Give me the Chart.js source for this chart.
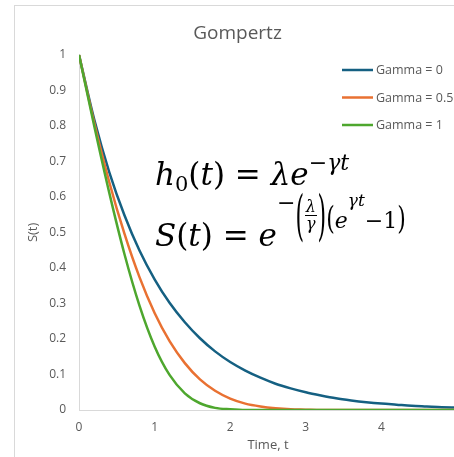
<!DOCTYPE html>
<html>
<head>
<meta charset="utf-8">
<script src="https://cdn.jsdelivr.net/npm/chart.js@4/dist/chart.umd.min.js"></script>
<style>
  html, body { margin:0; padding:0; background:#fff; overflow:hidden; width:454px; height:457px; }
  #frame { position:absolute; left:14px; top:5px; width:490px; height:490px; border:1px solid #d9d9d9; box-sizing:border-box; }
  #c { position:absolute; left:0; top:0; }
  .eq { position:absolute; left:155px; font-family:"DejaVu Serif", serif; font-size:31px; line-height:1; color:#000; white-space:nowrap; }
  .eq i { font-style:italic; }
  .eq .sub { font-size:21px; position:relative; top:6px; line-height:0; }
  .eq .sup1 { font-size:22px; position:relative; top:-15px; line-height:0; }
  .eq .ex { font-size:22px; position:relative; top:-18px; line-height:0; }
  .eq .lm { position:relative; top:-18px; }
  .eq .bp { display:inline-block; line-height:1; transform:translateY(-5px) scaleY(2.5); }
  .eq .sp { display:inline-block; line-height:1; transform:translateY(-2px) scaleY(1.4); }
  .eq .frac { display:inline-flex; flex-direction:column; align-items:center; font-size:16px; line-height:1; position:relative; top:-16px; margin:0 1px; }
  .eq .frac .den { border-top:1.5px solid #000; padding:0 1px; }
  .eq .sup2 { font-size:17px; position:relative; top:-22px; line-height:0; }
</style>
</head>
<body>
<div id="frame"></div>
<canvas id="c" width="490" height="470"></canvas>
<div class="eq" id="eq1" style="top:159px;"><i>h</i><span class="sub">0</span>(<i>t</i>) = <i>λe</i><span class="sup1">−<i>γt</i></span></div>
<div class="eq" id="eq2" style="top:220px;"><i>S</i>(<i>t</i>) = <i>e</i><span class="ex"><span class="lm">−</span><span class="bp">(</span><span class="frac"><i>λ</i><i class="den">γ</i></span><span class="bp">)</span><span class="sp">(</span><i>e</i><span class="sup2"><i>γt</i></span>−1<span class="sp">)</span></span></div>
<script>
const tValues = [0,0.2,0.4,0.6,0.8,1,1.2,1.4,1.6,1.8,2,2.2,2.4,2.6,2.8,3,3.2,3.4,3.6,3.8,4,4.2,4.4,4.6,4.8,5];
const gamma0  = [1,0.819,0.670,0.549,0.449,0.368,0.301,0.247,0.202,0.165,0.135,0.111,0.091,0.074,0.061,0.050,0.041,0.033,0.027,0.022,0.018,0.015,0.012,0.010,0.008,0.007];
const gamma05 = [1,0.810,0.642,0.497,0.374,0.273,0.193,0.132,0.086,0.054,0.032,0.018,0.010,0.005,0.002,0.001,0,0,0,0,0,0,0,0,0,0];
const gamma1  = [1,0.801,0.612,0.440,0.294,0.179,0.098,0.047,0.019,0.006,0.002,0,0,0,0,0,0,0,0,0,0,0,0,0,0,0];
const seriesLabels = ['Gamma = 0','Gamma = 0.5','Gamma = 1'];
const seriesColors = ['#156082','#E97132','#4EA72E'];
const chartTitle = 'Gompertz';
const xTitle = 'Time, t';
const yTitle = 'S(t)';

const FONT = '"Open Sans", "Liberation Sans", sans-serif';
const TXT = '#595959';

function pts(arr){ return tValues.map((t,i)=>({x:t,y:arr[i]})); }
const allSeries = [gamma0, gamma05, gamma1];

const legendPlugin = {
  id:'manualLegend',
  afterDraw(chart){
    const ctx = chart.ctx;
    ctx.save();
    chart.data.datasets.forEach((ds,i)=>{
      const y = 70 + i*27.5;
      ctx.strokeStyle = ds.borderColor;
      ctx.lineWidth = 2.5;
      ctx.beginPath(); ctx.moveTo(342,y); ctx.lineTo(373,y); ctx.stroke();
      ctx.fillStyle = TXT;
      ctx.font = '12.5px ' + FONT;
      ctx.textBaseline = 'middle';
      ctx.textAlign = 'left';
      ctx.fillText(ds.label, 376, y+0.5);
    });
    ctx.restore();
  }
};

new Chart(document.getElementById('c'), {
  type:'line',
  data:{
    datasets: allSeries.map((arr,i)=>({
      label: seriesLabels[i],
      data: pts(arr),
      borderColor: seriesColors[i],
      backgroundColor: seriesColors[i],
      borderWidth: 2.5,
      pointRadius: 0,
      cubicInterpolationMode: 'monotone',
      fill:false,
      order: 3-i
    }))
  },
  options:{
    responsive:false,
    animation:false,
    layout:{ padding:{ left:18, right:33, top:13, bottom:13 } },
    plugins:{
      legend:{ display:false },
      tooltip:{ enabled:false },
      title:{ display:true, text:chartTitle, color:TXT, font:{ family:FONT, size:19, weight:'normal' }, padding:{ top:9, bottom:10 } }
    },
    scales:{
      x:{
        type:'linear', min:0, max:5,
        ticks:{ stepSize:1, color:TXT, font:{ family:FONT, size:12 }, padding:10, maxRotation:0 },
        grid:{ display:false, drawTicks:false },
        border:{ display:true, color:'#d9d9d9', width:1 },
        title:{ display:true, text:xTitle, color:TXT, font:{ family:FONT, size:13 }, padding:{ top:0, bottom:4 } },
        afterFit(s){ s.height = 47; }
      },
      y:{
        type:'linear', min:0, max:1,
        ticks:{ stepSize:0.1, color:TXT, font:{ family:FONT, size:12 }, padding:13,
          callback:(v)=>String(Number(v.toFixed(1))) },
        grid:{ display:false, drawTicks:false },
        border:{ display:true, color:'#d9d9d9', width:1 },
        title:{ display:true, text:yTitle, color:TXT, font:{ family:FONT, size:13 }, padding:{ top:7, bottom:0 } },
        afterFit(s){ s.width = 61; }
      }
    }
  },
  plugins:[legendPlugin]
});
</script>
</body>
</html>
